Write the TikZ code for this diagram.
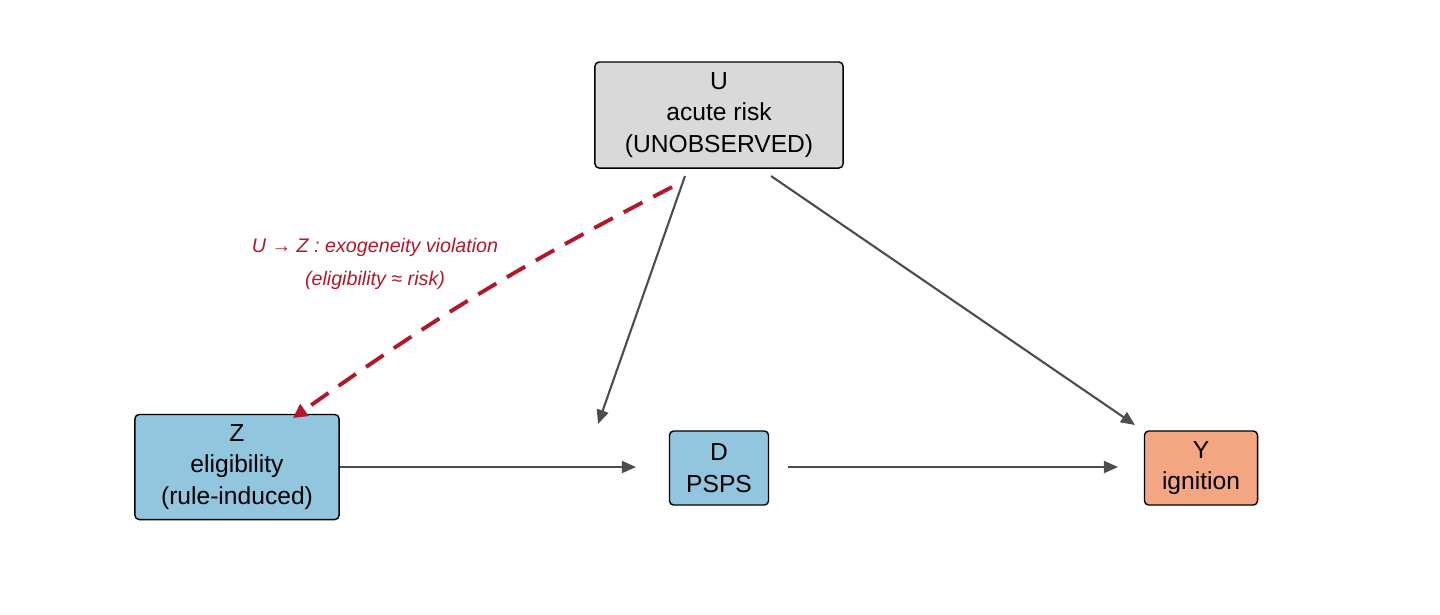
\documentclass[tikz,border=0pt]{standalone}
\usepackage{fontspec}
\setmainfont{Liberation Sans}
\usetikzlibrary{arrows.meta}
\definecolor{boxblue}{HTML}{92C5DE}
\definecolor{boxorange}{HTML}{F4A582}
\definecolor{boxgray}{HTML}{D9D9D9}
\definecolor{edgegray}{HTML}{4D4D4D}
\definecolor{violred}{HTML}{B2182B}
\tikzset{
  var/.style={draw=black, line width=0.4pt, rounded corners=1.2pt, align=center,
    font=\fontsize{7}{9}\selectfont, inner sep=0pt},
  edge/.style={draw=edgegray, line width=0.6pt, -{Triangle[length=4pt,width=3.4pt]}},
  viol/.style={draw=violred, line width=1.1pt, dash pattern=on 6pt off 3.5pt,
    -{Triangle[length=4pt,width=4pt]}}
}
\begin{document}
\begin{tikzpicture}[x=0.01cm, y=-0.01cm]
    \useasboundingbox (0,0) rectangle (1440,614);
    \node[var, fill=boxgray, minimum width=248\pgflinewidth*0+2.48cm, minimum height=1.06cm] (U) at (719,115) {U\\acute risk\\(UNOBSERVED)};
    \node[var, fill=boxblue, minimum width=2.04cm, minimum height=1.05cm] (Z) at (237,467) {Z\\eligibility\\(rule-induced)};
    \node[var, fill=boxblue, minimum width=0.99cm, minimum height=0.74cm] (D) at (719,468) {D\\PSPS};
    \node[var, fill=boxorange, minimum width=1.13cm, minimum height=0.74cm] (Y) at (1201,468) {Y\\ignition};
    % free ends of the connectors
    \coordinate (zd) at (636,467);
    \coordinate (dy) at (1118,467);
    \coordinate (ud) at (598,424);
    \coordinate (uy) at (1135,425);
    \coordinate (uzs) at (672,187);
    \coordinate (uze) at (293,418);
    \draw[edge] (Z.east) -- (zd);
    \draw[edge] (788,467) -- (dy);
    \draw[edge] (685,176) -- (ud);
    \draw[edge] (771,176) -- (uy);
    \draw[viol] (uzs) to[bend right=4] (uze);
    \node[text=violred, font=\fontsize{5.6}{9.2}\selectfont\itshape, align=center] (lab) at (375,264)
      {U → Z : exogeneity violation\\(eligibility ≈ risk)};
\end{tikzpicture}
\end{document}
